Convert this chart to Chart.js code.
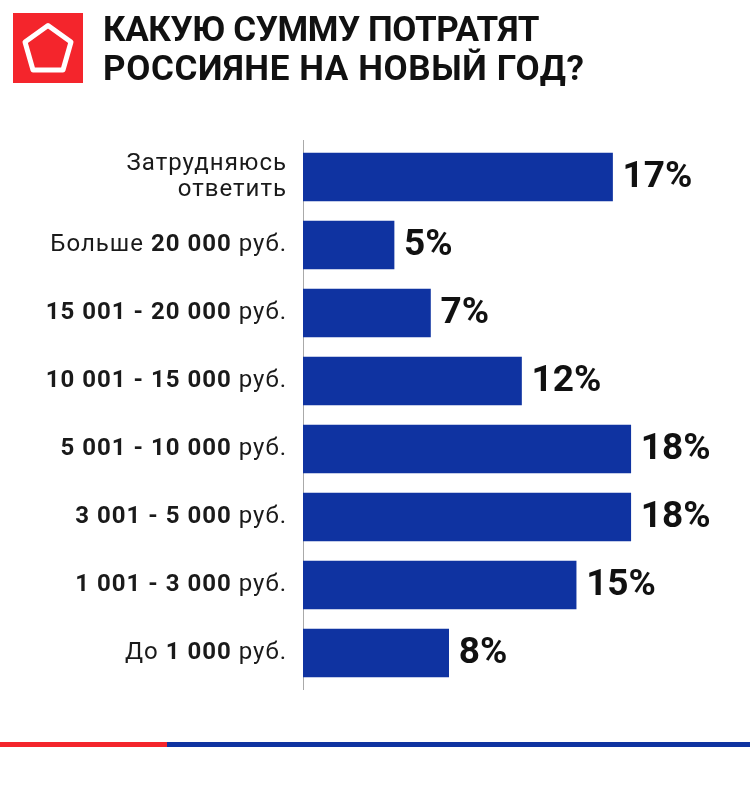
<!DOCTYPE html>
<html lang="ru">
<head>
<meta charset="utf-8">
<title>Какую сумму потратят россияне на Новый год?</title>
<script src="https://cdn.jsdelivr.net/npm/chart.js@4.4.1/dist/chart.umd.min.js"></script>
<style>
  html,body{margin:0;padding:0;background:#fff;}
  .page{position:relative;width:750px;height:788px;overflow:hidden;font-family:Roboto,'Noto Sans',sans-serif;}
  #chart{position:absolute;left:0;top:0;}
  .logo{position:absolute;left:13px;top:13px;width:70px;height:70px;background:#f4252c;}
  .title{position:absolute;left:103px;top:10px;margin:0;font-size:35px;line-height:39px;font-weight:700;color:#111;}
  .title span{display:block;}
  .title .l1{letter-spacing:-0.4px;}
  .title .l2{letter-spacing:0.6px;}
  .stripe{position:absolute;top:742px;height:5px;}
  .stripe.red{left:0;width:167px;background:#f4252c;}
  .stripe.blue{left:167px;width:583px;background:#0f33a1;}
</style>
</head>
<body>
<div class="page">
  <canvas id="chart" width="750" height="788"></canvas>
  <div class="logo">
    <svg width="70" height="70" viewBox="0 0 70 70">
      <polygon points="35,12.5 58,29 50,57 20,57 12,29" fill="none" stroke="#fff" stroke-width="5" stroke-linejoin="round"/>
    </svg>
  </div>
  <h1 class="title"><span class="l1">КАКУЮ СУММУ ПОТРАТЯТ</span><span class="l2">РОССИЯНЕ НА НОВЫЙ ГОД?</span></h1>
  <div class="stripe red"></div>
  <div class="stripe blue"></div>
</div>
<script>
/* ── DATA ── */
const categories = [
  ['Затрудняюсь', 'ответить'],
  'Больше 20 000 руб.',
  '15 001 - 20 000 руб.',
  '10 001 - 15 000 руб.',
  '5 001 - 10 000 руб.',
  '3 001 - 5 000 руб.',
  '1 001 - 3 000 руб.',
  'До 1 000 руб.'
];
const boldParts = ['', '20 000', '15 001 - 20 000', '10 001 - 15 000', '5 001 - 10 000', '3 001 - 5 000', '1 001 - 3 000', '1 000'];
const shares = [17, 5, 7, 12, 18, 18, 15, 8];

const BLUE = '#0f33a1';
const FONT = "Roboto, 'Noto Sans', sans-serif";
const LABEL_PX = 24;

/* ── AXIS LINE ── */
const axisLine = {
  id: 'axisLine',
  beforeDatasetsDraw(chart) {
    const ctx = chart.ctx, a = chart.chartArea;
    ctx.save();
    ctx.strokeStyle = '#aaaaaa';
    ctx.lineWidth = 1;
    ctx.beginPath();
    ctx.moveTo(a.left + 0.5, a.top - 3);
    ctx.lineTo(a.left + 0.5, a.bottom + 3);
    ctx.stroke();
    ctx.restore();
  }
};

/* ── LABELS (mixed weight, drawn left of the axis) ── */
const catLabels = {
  id: 'catLabels',
  afterDraw(chart) {
    const ctx = chart.ctx, y = chart.scales.y;
    const right = 287;
    ctx.save();
    ctx.fillStyle = '#1a1a1a';
    ctx.textBaseline = 'middle';
    ctx.textAlign = 'left';
    ctx.letterSpacing = '1px';
    categories.forEach((lab, i) => {
      const cy = y.getPixelForValue(i);
      if (Array.isArray(lab)) {
        ctx.font = '400 ' + LABEL_PX + 'px ' + FONT;
        const lh = 26;
        lab.forEach((line, k) => {
          const w = ctx.measureText(line).width;
          ctx.fillText(line, right - w, cy + (k - (lab.length - 1) / 2) * lh);
        });
        return;
      }
      const b = boldParts[i];
      const at = b ? lab.indexOf(b) : -1;
      const segs = at < 0 ? [[lab, 400]] :
        [[lab.slice(0, at), 400], [b, 700], [lab.slice(at + b.length), 400]].filter(s => s[0]);
      let total = 0;
      segs.forEach(s => { ctx.font = s[1] + ' ' + LABEL_PX + 'px ' + FONT; s.w = ctx.measureText(s[0]).width; total += s.w; });
      let x = right - total;
      segs.forEach(s => { ctx.font = s[1] + ' ' + LABEL_PX + 'px ' + FONT; ctx.fillText(s[0], x, cy); x += s.w; });
    });
    ctx.restore();
  }
};

/* ── VALUE LABELS ── */
const valueLabels = {
  id: 'valueLabels',
  afterDatasetsDraw(chart) {
    const ctx = chart.ctx;
    ctx.save();
    ctx.fillStyle = '#111';
    ctx.font = '700 37px ' + FONT;
    ctx.textBaseline = 'middle';
    ctx.textAlign = 'left';
    chart.getDatasetMeta(0).data.forEach((bar, i) => {
      ctx.fillText(shares[i] + '%', bar.x + 10, bar.y + 1);
    });
    ctx.restore();
  }
};

new Chart(document.getElementById('chart'), {
  type: 'bar',
  data: {
    labels: categories,
    datasets: [{ data: shares, backgroundColor: BLUE, borderWidth: 0, barThickness: 48 }]
  },
  options: {
    indexAxis: 'y',
    responsive: false,
    animation: false,
    layout: { padding: { left: 0, right: 10, top: 143, bottom: 101 } },
    scales: {
      x: { display: false, min: 0, max: 24 },
      y: {
        grid: { display: false },
        ticks: { display: false },
        border: { display: false },
        afterFit(s) { s.width = 303; }
      }
    },
    plugins: { legend: { display: false }, tooltip: { enabled: false } }
  },
  plugins: [axisLine, catLabels, valueLabels]
});
</script>
</body>
</html>
